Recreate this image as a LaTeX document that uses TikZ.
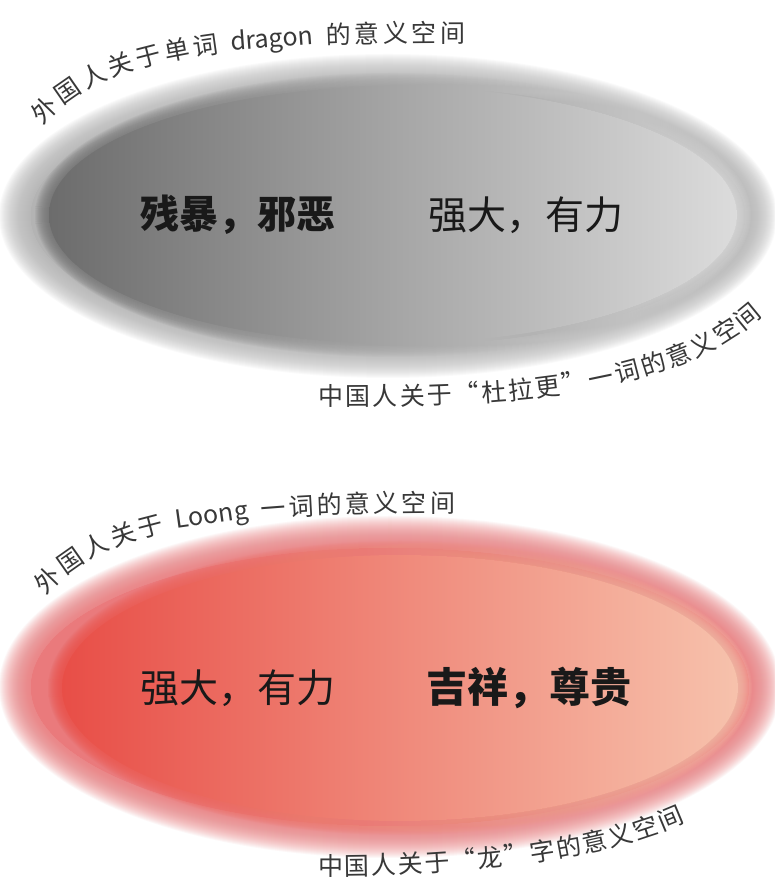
\documentclass[tikz,border=0pt]{standalone}
\usepackage{fontspec}
\newfontfamily\cjk{Noto Sans CJK SC}
\usetikzlibrary{decorations.text}
\definecolor{topouter}{HTML}{B3B3B3}
\definecolor{topleft}{HTML}{6C6C6C}
\definecolor{topright}{HTML}{DEDEDE}
\definecolor{botouter}{HTML}{EA7A7C}
\definecolor{botleft}{HTML}{E84E47}
\definecolor{botright}{HTML}{F7C4AE}
\definecolor{labgray}{HTML}{383838}
\newcommand\labfont{\cjk\fontsize{25}{25}\selectfont\color{labgray}}
\tikzset{
  bigtext/.style={font=\cjk\fontsize{39}{41}\selectfont, text=black!90, inner sep=0pt},
  bigbold/.style={font=\cjk\bfseries\fontsize{39}{41}\selectfont, text=black!90, inner sep=0pt},
  bigheavy/.style={font=\cjk\bfseries\fontsize{41}{43}\selectfont, text=black!90, inner sep=0pt},
}
\begin{document}
\begin{tikzpicture}[x=1pt,y=1pt]
\useasboundingbox (0,0) rectangle (774,883);
\fill[white] (0,0) rectangle (774,883);

% ---------- top panel ----------
\fill[topouter] (388,667) ellipse (357 and 130);
\foreach \d in {-16,...,16}
  \fill[topouter, opacity=0.06] (388,667) ellipse ({373+(\d)} and {146+(\d)});
\shade[left color=topleft, right color=topright] (393,668) ellipse (344 and 128);
\foreach \d in {-7,...,7}
  \shade[left color=topleft, right color=topright, opacity=0.1] (393,668) ellipse ({351+(\d)} and {135+(\d)});

\node[bigbold] (t1) at (238,668) {残暴，邪恶};
\node[bigtext] (t2) at (526,668) {强大，有力};

\path[decorate, decoration={text along path,
  text={|\labfont|外国人关于单词 {dragon} 的意义空间}, text align={fit to path}}]
  (43,757) .. controls (100,828) and (230,841) .. (465,841);
\path[decorate, decoration={text along path,
  text={|\labfont|中国人关于“杜拉更”一词的意义空间}, text align={fit to path}}]
  (318,477) .. controls (470,477) and (665,478) .. (762,568);

% ---------- bottom panel ----------
\fill[botouter] (390,196) ellipse (359 and 139);
\foreach \d in {-16,...,16}
  \fill[botouter, opacity=0.06] (390,196) ellipse ({375+(\d)} and {155+(\d)});
\shade[left color=botleft, right color=botright] (400,195) ellipse (338 and 133);
\foreach \d in {-7,...,7}
  \shade[left color=botleft, right color=botright, opacity=0.1] (400,195) ellipse ({345+(\d)} and {140+(\d)});

\node[bigtext] (b1) at (238,195) {强大，有力};
\node[bigheavy] (b2) at (529,195) {吉祥，尊贵};

\path[decorate, decoration={text along path,
  text={|\labfont|外国人关于 {Loong} 一词的意义空间}, text align={fit to path}}]
  (46,287) .. controls (100,353) and (210,371) .. (455,371);
\path[decorate, decoration={text along path,
  text={|\labfont|中国人关于“龙”字的意义空间}, text align={fit to path}}]
  (318,8) .. controls (450,7) and (600,21) .. (685,61);
\end{tikzpicture}
\end{document}
